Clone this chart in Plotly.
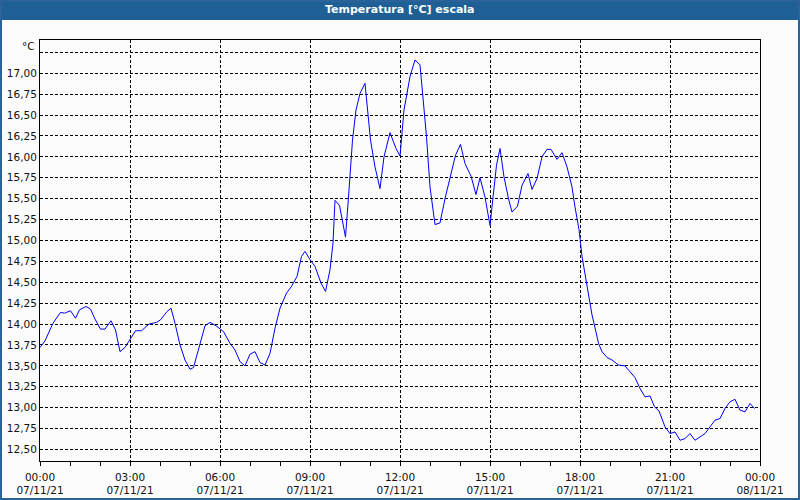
import plotly.graph_objects as go

# ---- data ----
times = ["00:00","00:10","00:26","00:41","00:49","01:01","01:11","01:19","01:32","01:41","01:50",
         "02:01","02:10","02:22","02:31","02:40","02:50","03:01","03:11","03:23","03:38","03:53",
         "04:01","04:14","04:22","04:30","04:40","04:50","05:00","05:07","05:13","05:23","05:30",
         "05:40","05:52","06:07","06:20","06:30","06:40","06:50","07:00","07:10","07:20","07:30",
         "07:40","07:50","08:00","08:13","08:23","08:34","08:43","08:50","09:00","09:10","09:22",
         "09:31","09:40","09:46","09:50","09:59","10:11","10:17","10:25","10:32","10:40","10:50",
         "11:01","11:10","11:20","11:28","11:40","11:52","12:00","12:08","12:20","12:30","12:40",
         "12:53","13:00","13:10","13:20","13:30","13:40","13:51","14:01","14:10","14:22","14:32",
         "14:40","14:50","15:00","15:07","15:13","15:20","15:28","15:37","15:44","15:55","16:04",
         "16:16","16:24","16:34","16:44","16:54","17:02","17:14","17:24","17:34","17:44","17:50",
         "17:58","18:04","18:11","18:17","18:24","18:31","18:37","18:44","18:54","19:04","19:17",
         "19:30","19:40","19:50","20:00","20:10","20:20","20:29","20:38","20:50","21:00","21:10",
         "21:20","21:30","21:40","21:50","22:00","22:10","22:20","22:30","22:40","22:50","23:00",
         "23:10","23:20","23:30","23:40","23:49"]
temps = [13.72,13.80,14.01,14.14,14.13,14.16,14.07,14.17,14.21,14.18,14.06,
         13.94,13.94,14.04,13.93,13.67,13.72,13.82,13.92,13.92,14.00,14.02,
         14.05,14.15,14.19,14.01,13.75,13.57,13.46,13.48,13.61,13.83,13.98,
         14.02,13.98,13.91,13.77,13.69,13.55,13.50,13.64,13.67,13.54,13.51,
         13.65,13.95,14.19,14.37,14.45,14.57,14.81,14.87,14.77,14.69,14.49,
         14.39,14.65,14.97,15.48,15.42,15.04,15.52,16.20,16.56,16.76,16.88,
         16.20,15.88,15.62,16.00,16.29,16.10,16.01,16.56,16.96,17.16,17.10,
         16.24,15.64,15.19,15.21,15.50,15.74,16.02,16.15,15.92,15.77,15.55,
         15.75,15.52,15.18,15.55,15.90,16.10,15.76,15.50,15.34,15.41,15.66,
         15.80,15.61,15.74,16.00,16.09,16.09,15.97,16.05,15.88,15.64,15.40,
         15.13,14.81,14.57,14.33,14.11,13.93,13.77,13.67,13.60,13.57,13.51,
         13.50,13.43,13.36,13.23,13.13,13.14,13.01,12.96,12.77,12.69,12.71,
         12.61,12.63,12.69,12.61,12.65,12.69,12.77,12.85,12.87,12.99,13.07,
         13.10,12.97,12.95,13.05,12.99]
day = "2021-11-07"
x_tick_hours = ["00:00","03:00","06:00","09:00","12:00","15:00","18:00","21:00","00:00"]
x_tick_dates = ["07/11/21"]*8 + ["08/11/21"]
y_ticks = [12.5,12.75,13.0,13.25,13.5,13.75,14.0,14.25,14.5,14.75,15.0,15.25,15.5,15.75,16.0,16.25,16.5,16.75,17.0,17.25]
title = "Temperatura [°C] escala"
unit = "°C"

# ---- figure ----
W, H = 800, 500
L, R, T, B = 40, 40, 40, 39
pw, ph = W - L - R, H - T - B

def px_x(p):
    return (p - L) / pw

def px_y(p):
    return (H - B - p) / ph

xs = [f"{day} {t}" for t in times]
tickvals = [f"2021-11-{7 + (i == 8):02d} {h}" for i, h in enumerate(x_tick_hours)]
ticktext = [f"{h}<br>{d}" for h, d in zip(x_tick_hours, x_tick_dates)]
ytext = [("" if v > 17.1 else f"{v:.2f}".replace(".", ",")) for v in y_ticks]

font = dict(family="DejaVu Sans", size=10.5, color="#111111")

fig = go.Figure()
fig.add_trace(go.Scatter(x=xs, y=temps, mode="lines",
                         line=dict(color="#0000ff", width=1), hoverinfo="skip"))

fig.update_layout(
    width=W, height=H,
    margin=dict(l=L, r=R, t=T, b=B, pad=0),
    paper_bgcolor="#fbfcfb", plot_bgcolor="#fbfcfb",
    showlegend=False, font=font,
    xaxis=dict(type="date", range=["2021-11-07 00:00", "2021-11-08 00:00"],
               tickmode="array", tickvals=tickvals, ticktext=ticktext, automargin=False,
               showline=True, linecolor="black", linewidth=1, mirror=True,
               ticks="outside", ticklen=4, tickcolor="black", tickwidth=1,
               ticklabelstandoff=2,
               showgrid=True, gridcolor="black", gridwidth=1, griddash="3px,2px",
               minor=dict(dtick=3600000, ticks="outside", ticklen=4, tickcolor="black", showgrid=False),
               zeroline=False, tickfont=font),
    yaxis=dict(range=[12.362, 17.398], tickmode="array", tickvals=y_ticks, ticktext=ytext,
               automargin=False,
               showline=True, linecolor="black", linewidth=1, mirror=True,
               ticks="", showgrid=True, gridcolor="black", gridwidth=1, griddash="3px,2px",
               zeroline=False, tickfont=font),
)

# title bar
fig.add_shape(type="rect", xref="paper", yref="paper",
              x0=px_x(0), x1=px_x(W), y0=px_y(20), y1=px_y(0),
              fillcolor="#1e5f96", line=dict(width=0), layer="above")
# outer frame
fig.add_shape(type="rect", xref="paper", yref="paper",
              x0=px_x(1), x1=px_x(W - 1), y0=px_y(H - 1), y1=px_y(1),
              line=dict(color="#2a6299", width=2), fillcolor="rgba(0,0,0,0)", layer="above")

fig.add_annotation(text=f"<b>{title}</b>", xref="paper", yref="paper",
                   x=0.5, y=px_y(10), xanchor="center", yanchor="middle", showarrow=False,
                   font=dict(family="DejaVu Sans", size=11, color="white"))
fig.add_annotation(text=unit, xref="paper", yref="paper",
                   x=px_x(37), y=px_y(46), xanchor="right", yanchor="middle", showarrow=False,
                   font=font)

fig.write_html("out.html")
